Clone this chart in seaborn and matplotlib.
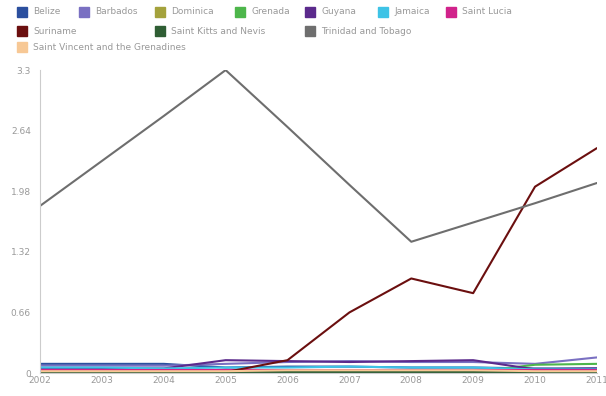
import pandas as pd
import matplotlib.pyplot as plt
import seaborn as sns
from matplotlib.patches import Rectangle

years = list(range(2002, 2012))

countries = ['Belize', 'Barbados', 'Dominica', 'Grenada', 'Guyana', 'Jamaica',
             'Saint Lucia', 'Suriname', 'Saint Kitts and Nevis',
             'Trinidad and Tobago', 'Saint Vincent and the Grenadines']

colors = ['#2b4f9e', '#7a70c2', '#a4a23c', '#4db64b', '#5b2a8c', '#3ec3e6',
          '#d1238b', '#6b0f0f', '#2f5e34', '#6e6e6e', '#f7c895']

belize = [0.10, 0.10, 0.10, 0.06, 0.07, 0.07, 0.06, 0.06, 0.05, 0.05]
barbados = [0.08, 0.08, 0.08, 0.10, 0.12, 0.13, 0.12, 0.12, 0.10, 0.17]
dominica = [0.01, 0.01, 0.01, 0.01, 0.01, 0.01, 0.01, 0.01, 0.01, 0.01]
grenada = [0.01, 0.01, 0.01, 0.01, 0.01, 0.01, 0.01, 0.01, 0.09, 0.10]
guyana = [0.05, 0.05, 0.05, 0.14, 0.13, 0.12, 0.13, 0.14, 0.04, 0.05]
jamaica = [0.06, 0.06, 0.05, 0.06, 0.06, 0.07, 0.06, 0.06, 0.04, 0.04]
saint_lucia = [0.03, 0.03, 0.03, 0.03, 0.03, 0.03, 0.03, 0.03, 0.03, 0.03]
suriname = [0.01, 0.01, 0.01, 0.01, 0.14, 0.66, 1.03, 0.87, 2.03, 2.45]
saint_kitts = [0.01, 0.01, 0.01, 0.01, 0.01, 0.01, 0.01, 0.01, 0.01, 0.01]
trinidad = [1.82, 2.31, 2.80, 3.30, 2.68, 2.05, 1.43, 1.64, 1.85, 2.07]
saint_vincent = [0.02, 0.02, 0.02, 0.02, 0.03, 0.03, 0.03, 0.03, 0.02, 0.02]

series = [belize, barbados, dominica, grenada, guyana, jamaica, saint_lucia,
          suriname, saint_kitts, trinidad, saint_vincent]

y_ticks = [0, 0.66, 1.32, 1.98, 2.64, 3.3]
y_labels = ['0', '0.66', '1.32', '1.98', '2.64', '3.3']

rows = []
for name, vals in zip(countries, series):
    for yr, v in zip(years, vals):
        rows.append({'year': yr, 'value': v, 'country': name})
df = pd.DataFrame(rows)

sns.set_style('white')
fig = plt.figure(figsize=(6.06, 3.96), dpi=100)
ax = fig.add_axes([0.066, 0.058, 0.919, 0.765])

sns.lineplot(data=df, x='year', y='value', hue='country', hue_order=countries,
             palette=dict(zip(countries, colors)), linewidth=1.5, legend=False, ax=ax)

ax.set_xlim(2002, 2011)
ax.set_ylim(0, 3.3)
ax.set_xticks(years)
ax.set_xticklabels([str(y) for y in years])
ax.set_yticks(y_ticks)
ax.set_yticklabels(y_labels)
ax.set_xlabel('')
ax.set_ylabel('')
ax.tick_params(axis='both', labelsize=6.5, colors='#999999', length=3, width=0.6)
ax.tick_params(axis='x', length=0, pad=2)
for side in ['top', 'right']:
    ax.spines[side].set_visible(False)
for side in ['left', 'bottom']:
    ax.spines[side].set_color('#cccccc')
    ax.spines[side].set_linewidth(0.8)

# flow-style legend above the plot
legend_rows = [
    [(0, 17), (1, 79), (2, 155), (3, 235), (4, 305), (5, 378), (6, 446)],
    [(7, 17), (8, 155), (9, 305)],
    [(10, 17)],
]
row_y = [12, 31, 47]
W, H = 606, 396
for r, items in enumerate(legend_rows):
    yc = row_y[r]
    for idx, xpx in items:
        fig.patches.append(Rectangle((xpx / W, (H - yc - 5) / H), 10 / W, 10 / H,
                                     transform=fig.transFigure, color=colors[idx]))
        fig.text((xpx + 16) / W, (H - yc) / H, countries[idx], fontsize=6.5,
                 color='#999999', va='center', ha='left')

fig.savefig('out.png', dpi=100)
